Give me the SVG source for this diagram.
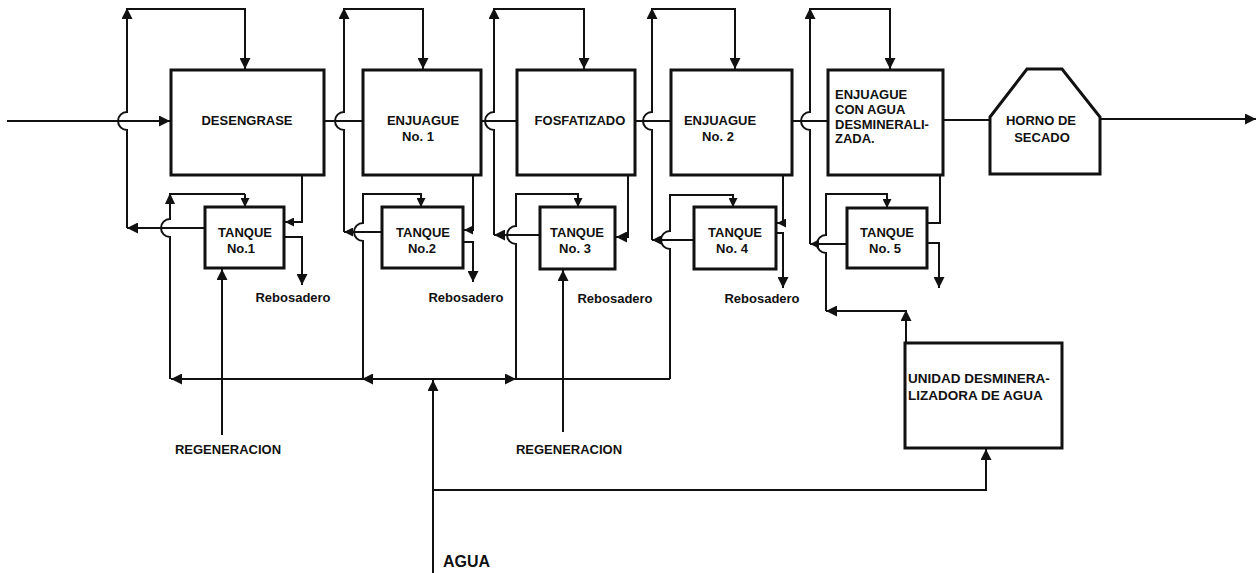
<svg xmlns="http://www.w3.org/2000/svg" width="1258" height="573" viewBox="0 0 1258 573">
<style>
.box{fill:#fff;stroke:#111;stroke-width:3}
.ln{fill:none;stroke:#111;stroke-width:2}
.ar{marker-end:url(#ah)}
.sa{marker-end:url(#sh)}
text{font-family:"Liberation Sans",Arial,sans-serif;font-weight:bold;fill:#111;font-size:13px}
.c{text-anchor:middle}
</style>
<defs>
<marker id="ah" viewBox="0 0 10 10" refX="10" refY="5" markerWidth="12" markerHeight="11" markerUnits="userSpaceOnUse" orient="auto"><path d="M0,0 L10,5 L0,10 z" fill="#111"/></marker>
<marker id="sh" viewBox="0 0 10 10" refX="10" refY="5" markerWidth="9" markerHeight="9" markerUnits="userSpaceOnUse" orient="auto"><path d="M0,0 L10,5 L0,10 z" fill="#111"/></marker>
</defs>
<rect width="1258" height="573" fill="#fff"/>

<g id="connectors">
<!-- main line -->
<path class="ln ar" d="M7,121 H170"/>
<path class="ln" d="M324,121 H363"/>
<path class="ln" d="M481,121 H517"/>
<path class="ln" d="M635,121 H671"/>
<path class="ln" d="M792,121 H828"/>
<path class="ln" d="M943,120 H990"/>
<path class="ln ar" d="M1100,119 H1256"/>
<!-- stage 1 feedback -->
<path class="ln ar" d="M205,228 H127"/>
<path class="ln ar" d="M127,228 V130 A9,9 0 0 1 127,112 V8"/>
<path class="ln ar" d="M127,9 H245 V69"/>
<!-- stage 2 feedback -->
<path class="ln sa" d="M382,232 H344"/>
<path class="ln ar" d="M344,232 V130 A9,9 0 0 1 344,112 V8"/>
<path class="ln ar" d="M344,9 H423 V69"/>
<!-- stage 3 feedback -->
<path class="ln ar" d="M540,235 H494"/>
<path class="ln ar" d="M494,235 V130 A9,9 0 0 1 494,112 V8"/>
<path class="ln ar" d="M494,9 H584 V69"/>
<!-- stage 4 feedback -->
<path class="ln sa" d="M694,240 H652"/>
<path class="ln ar" d="M652,240 V130 A9,9 0 0 1 652,112 V8"/>
<path class="ln ar" d="M652,9 H735 V69"/>
<!-- stage 5 feedback -->
<path class="ln sa" d="M847,244 H810"/>
<path class="ln ar" d="M810,244 V130 A9,9 0 0 1 810,112 V8"/>
<path class="ln ar" d="M810,9 H890 V69"/>
<!-- tank feeds from bottom header -->
<path class="ln ar" d="M433,379 H171"/>
<path class="ln ar" d="M433,379 H362"/>
<path class="ln ar" d="M433,379 H516"/>
<path class="ln" d="M516,379 H670"/>
<path class="ln" d="M170,379 V237 A9,9 0 0 1 170,219 V194 H245"/>
<polygon points="165,204 170,193 175,204" fill="#111"/>
<path class="ln sa" d="M245,194 V207"/>
<path class="ln sa" d="M363,379 V241 A9,9 0 0 1 363,223 V194 H421 V207"/>
<path class="ln sa" d="M516,379 V244 A9,9 0 0 1 516,226 V194 H578 V207"/>
<path class="ln sa" d="M670,379 V249 A9,9 0 0 1 670,231 V195 H733 V207"/>
<path class="ln ar" d="M906,343 V310"/>
<path class="ln ar" d="M906,311 H826"/>
<path class="ln sa" d="M826,311 V253 A9,9 0 0 1 826,235 V194 H887 V208"/>
<!-- box bottoms to tanks -->
<path class="ln sa" d="M302,175 V222 H285"/>
<path class="ln sa" d="M473,175 V230 H464"/>
<path class="ln ar" d="M628,175 V237 H616"/>
<path class="ln sa" d="M783,175 V223 H777"/>
<path class="ln" d="M940,175 V223 H927"/>
<!-- overflows -->
<path class="ln ar" d="M284,237 H302 V285"/>
<path class="ln ar" d="M463,242 H473 V282"/>
<path class="ln ar" d="M776,233 H783 V288"/>
<path class="ln ar" d="M927,243 H939 V288"/>
<!-- regeneracion -->
<path class="ln ar" d="M222,435 V269"/>
<path class="ln ar" d="M563,432 V270"/>
<!-- agua -->
<path class="ln ar" d="M433,573 V380"/>
<path class="ln ar" d="M433,490 H986 V449"/>
</g>

<g id="desengrase"><rect class="box" x="171" y="70" width="153" height="105"/><text class="c" x="247" y="125">DESENGRASE</text></g>
<g id="enjuague1"><rect class="box" x="363" y="70" width="118" height="105"/><text class="c" x="423" y="125">ENJUAGUE</text><text class="c" x="418" y="141">No. 1</text></g>
<g id="fosfatizado"><rect class="box" x="517" y="70" width="118" height="105"/><text class="c" x="580" y="125">FOSFATIZADO</text></g>
<g id="enjuague2"><rect class="box" x="671" y="70" width="121" height="105"/><text class="c" x="720" y="125">ENJUAGUE</text><text class="c" x="718" y="141">No. 2</text></g>
<g id="enjuague-demin"><rect class="box" x="828" y="70" width="115" height="105"/><text x="835" y="99">ENJUAGUE</text><text x="835" y="114">CON AGUA</text><text x="835" y="129">DESMINERALI-</text><text x="835" y="143">ZADA.</text></g>
<g id="horno"><polygon class="box" points="990,117 1027,69 1062,69 1100,117 1100,174 990,174"/><text class="c" x="1041" y="125">HORNO DE</text><text class="c" x="1042" y="142">SECADO</text></g>
<g id="tanque1"><rect class="box" x="205" y="207" width="79" height="61"/><text class="c" x="245" y="237">TANQUE</text><text class="c" x="241" y="253">No.1</text></g>
<g id="tanque2"><rect class="box" x="382" y="207" width="81" height="61"/><text class="c" x="423" y="237">TANQUE</text><text class="c" x="422" y="253">No.2</text></g>
<g id="tanque3"><rect class="box" x="540" y="207" width="75" height="62"/><text class="c" x="577" y="237">TANQUE</text><text class="c" x="575" y="253">No. 3</text></g>
<g id="tanque4"><rect class="box" x="694" y="207" width="82" height="62"/><text class="c" x="735" y="237">TANQUE</text><text class="c" x="732" y="253">No. 4</text></g>
<g id="tanque5"><rect class="box" x="847" y="208" width="80" height="60"/><text class="c" x="887" y="237">TANQUE</text><text class="c" x="885" y="253">No. 5</text></g>
<g id="unidad"><rect class="box" x="905" y="343" width="157" height="105"/><text x="908" y="383" style="font-size:13.5px">UNIDAD DESMINERA-</text><text x="908" y="400" style="font-size:13.5px">LIZADORA DE AGUA</text></g>
<g id="labels">
<text class="c" x="293" y="302">Rebosadero</text>
<text class="c" x="466" y="302">Rebosadero</text>
<text class="c" x="615" y="303">Rebosadero</text>
<text class="c" x="762" y="303">Rebosadero</text>
<text class="c" x="228" y="454">REGENERACION</text>
<text class="c" x="569" y="454">REGENERACION</text>
<text x="443" y="567" style="font-size:16px">AGUA</text>
</g>
</svg>
